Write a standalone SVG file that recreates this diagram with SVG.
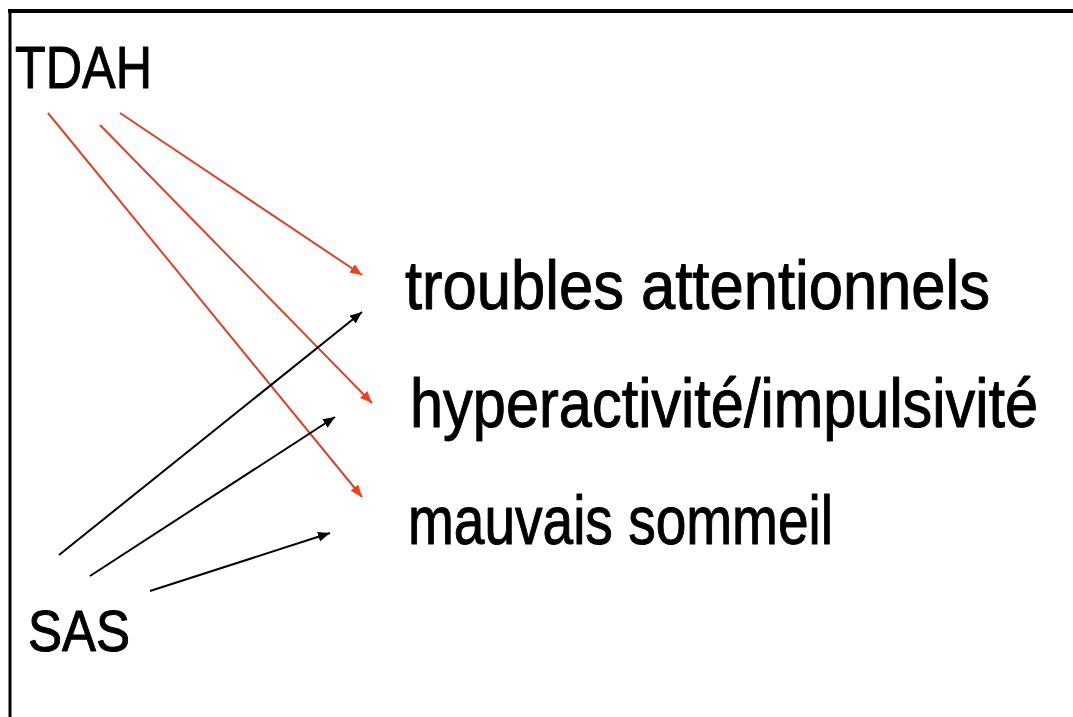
<svg xmlns="http://www.w3.org/2000/svg" width="1073" height="717" viewBox="0 0 1073 717">
<style>
.t{font-family:"Liberation Sans",Arial,sans-serif;fill:#000;stroke:#000;stroke-width:1;stroke-linejoin:round}
.r{stroke:#d9442a;stroke-width:2;fill:none}
.k{stroke:#000;stroke-width:2;fill:none}
</style>
<defs>
<marker id="ar" viewBox="0 0 12 10" refX="12" refY="5" markerWidth="12" markerHeight="10" markerUnits="userSpaceOnUse" orient="auto"><path d="M0,0 L12,5 L0,10 z" fill="#f0401c"/></marker>
<marker id="ak" viewBox="0 0 12 10" refX="12" refY="5" markerWidth="12" markerHeight="10" markerUnits="userSpaceOnUse" orient="auto"><path d="M0,0 L12,5 L0,10 z" fill="#000"/></marker>
</defs>
<rect width="1073" height="717" fill="#fff"/>
<g id="frame" stroke="#000" fill="none">
<line x1="8" y1="11" x2="1073" y2="11" stroke-width="4"/>
<line x1="10" y1="9" x2="10" y2="717" stroke-width="3"/>
</g>
<g id="TDAH"><text class="t" x="15" y="88" font-size="60" textLength="137" lengthAdjust="spacingAndGlyphs">TDAH</text></g>
<g id="SAS"><text class="t" x="28" y="651" font-size="58" textLength="102" lengthAdjust="spacingAndGlyphs">SAS</text></g>
<g id="troubles"><text class="t" x="405" y="309" font-size="68" textLength="585" lengthAdjust="spacingAndGlyphs">troubles attentionnels</text></g>
<g id="hyper"><text class="t" transform="translate(410,427) scale(0.85,1)" x="0" y="0" font-size="68" textLength="739" lengthAdjust="spacingAndGlyphs">hyperactivité/impulsivité</text></g>
<g id="sommeil"><text class="t" x="408" y="544" font-size="68" textLength="425" lengthAdjust="spacingAndGlyphs">mauvais sommeil</text></g>
<g id="connectors">
<line class="r" x1="120" y1="113" x2="362" y2="275" marker-end="url(#ar)"/>
<line class="r" x1="100" y1="125" x2="372" y2="403" marker-end="url(#ar)"/>
<line class="r" x1="48" y1="113" x2="362" y2="497" marker-end="url(#ar)"/>
<line class="k" x1="59" y1="555" x2="362" y2="312" marker-end="url(#ak)"/>
<line class="k" x1="90" y1="576" x2="335" y2="417" marker-end="url(#ak)"/>
<line class="k" x1="150" y1="591" x2="330" y2="533" marker-end="url(#ak)"/>
</g>
</svg>
